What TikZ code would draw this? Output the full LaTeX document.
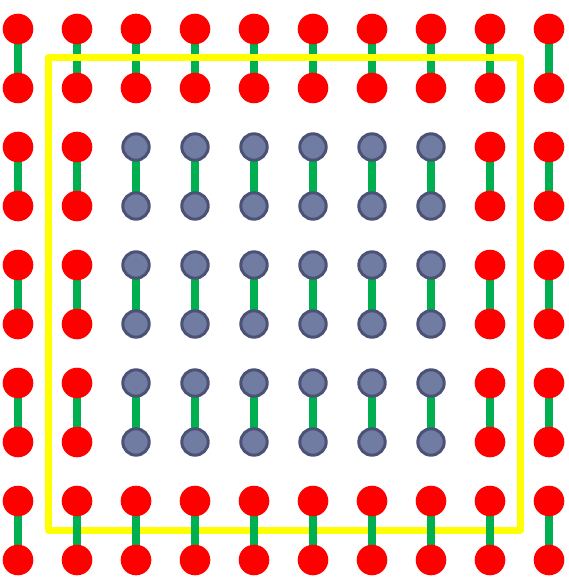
\documentclass[tikz,border=0pt]{standalone}
\usetikzlibrary{backgrounds}
\definecolor{linkgreen}{HTML}{00B050}
\definecolor{dotgray}{HTML}{717CA3}
\definecolor{dotedge}{HTML}{4B5275}
\definecolor{framey}{HTML}{FFFF00}
\definecolor{dotred}{HTML}{FF0000}
\pgfdeclarelayer{back}
\pgfdeclarelayer{mid}
\pgfsetlayers{back,mid,main}
\begin{document}
\begin{tikzpicture}[x=1pt,y=-1pt,
  reddot/.style={circle,fill=dotred,minimum size=30.6pt,inner sep=0pt},
  graydot/.style={circle,fill=dotgray,draw=dotedge,line width=3pt,minimum size=26.4pt,inner sep=0pt},
  link/.style={draw=linkgreen,line width=8.5pt},
  frame/.style={draw=framey,line width=7pt,line join=round}]
\useasboundingbox (0,0) rectangle (568,580);
\foreach \i in {0,...,9}{
  \foreach \j in {0,...,9}{
    \def\st{reddot}
    \ifnum\i>1 \ifnum\i<8 \ifnum\j>1 \ifnum\j<8 \def\st{graydot}\fi\fi\fi\fi
    \node[style=\st] (n-\i-\j) at ({18+59*\i},{29+59*\j}) {};
  }
}
\begin{pgfonlayer}{back}
  \foreach \i in {0,...,9}{
    \draw[link] (n-\i-0.center) -- (n-\i-1.center);
  }
  \draw[frame] (48,58) rectangle (520,530);
\end{pgfonlayer}
\begin{pgfonlayer}{mid}
  \foreach \i in {0,...,9}{
    \foreach \j/\k in {2/3,4/5,6/7,8/9}{
      \draw[link] (n-\i-\j.center) -- (n-\i-\k.center);
    }
  }
\end{pgfonlayer}
\end{tikzpicture}
\end{document}
